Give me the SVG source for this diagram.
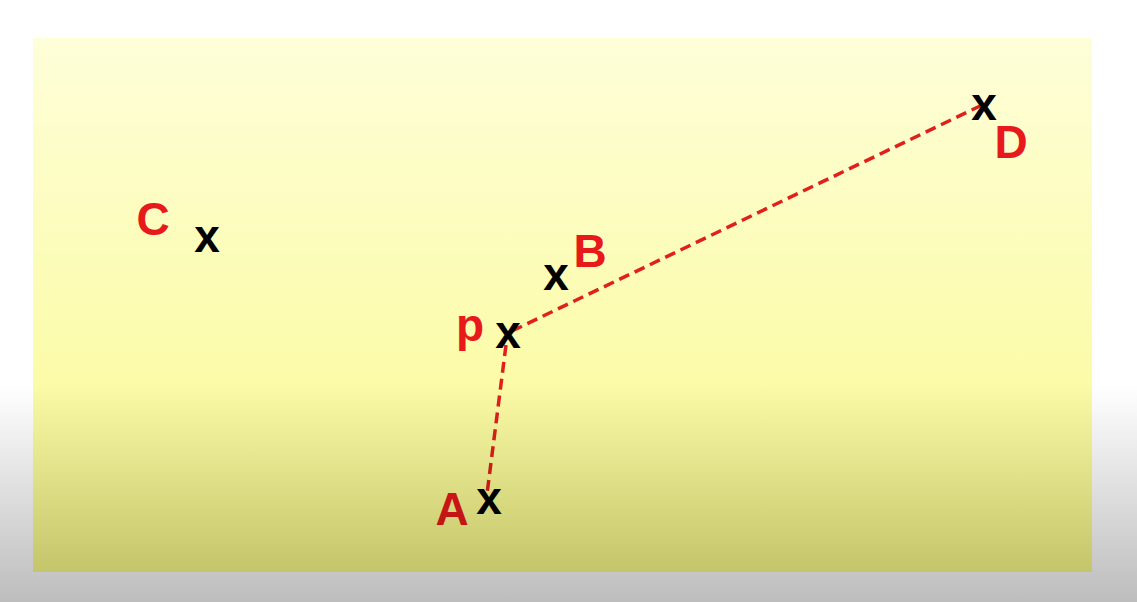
<svg xmlns="http://www.w3.org/2000/svg" width="1137" height="602" viewBox="0 0 1137 602">
  <defs>
    <linearGradient id="panel" x1="0" y1="38" x2="0" y2="572" gradientUnits="userSpaceOnUse">
      <stop offset="0" stop-color="#fefed9"/>
      <stop offset="0.66" stop-color="#fbfba7"/>
      <stop offset="1" stop-color="#fdfd8a"/>
    </linearGradient>
    <linearGradient id="shade" x1="0" y1="385" x2="0" y2="602" gradientUnits="userSpaceOnUse">
      <stop offset="0" stop-color="#000" stop-opacity="0"/>
      <stop offset="1" stop-color="#000" stop-opacity="0.26"/>
    </linearGradient>
  </defs>
  <style>
    .mark { font-family: "Liberation Sans", Arial, sans-serif; font-weight: bold; font-size: 46px; fill: #000; text-anchor: middle; }
    .lbl { font-family: "Liberation Sans", Arial, sans-serif; font-weight: bold; font-size: 46px; fill: #e8191a; text-anchor: middle; }
    .dash { stroke: #e0201b; stroke-width: 3.5; stroke-dasharray: 11 6; fill: none; }
  </style>
  <rect x="0" y="0" width="1137" height="602" fill="#ffffff"/>
  <rect x="33" y="38" width="1059" height="534" fill="url(#panel)"/>
  <g id="connectors">
    <line class="dash" x1="512" y1="331" x2="980" y2="106"/>
    <line class="dash" x1="506" y1="345" x2="487" y2="494"/>
  </g>
  <g id="node-C">
    <text class="mark" x="207" y="252">x</text>
    <text class="lbl" x="153" y="235">C</text>
  </g>
  <g id="node-B">
    <text class="mark" x="556" y="290">x</text>
    <text class="lbl" x="590" y="267">B</text>
  </g>
  <g id="node-p">
    <text class="mark" x="508" y="348">x</text>
    <text class="lbl" x="470" y="341">p</text>
  </g>
  <g id="node-A">
    <text class="mark" x="489" y="514">x</text>
    <text class="lbl" x="452" y="525">A</text>
  </g>
  <g id="node-D">
    <text class="mark" x="984" y="120">x</text>
    <text class="lbl" x="1011" y="158">D</text>
  </g>
  <rect x="0" y="385" width="1137" height="217" fill="url(#shade)"/>
</svg>
